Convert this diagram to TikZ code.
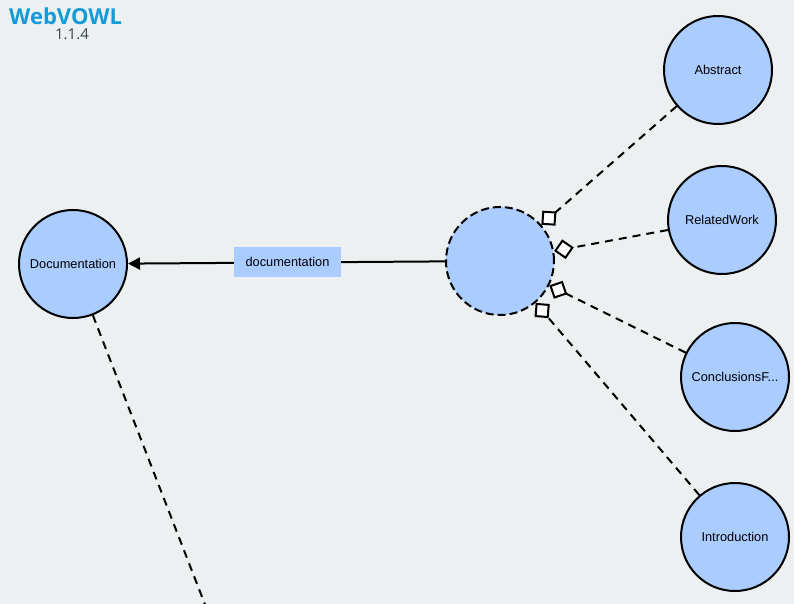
\documentclass[tikz,border=0pt]{standalone}
\usepackage{fontspec}
\setmainfont{Liberation Sans}
\newfontfamily\titlefont{Open Sans}
\usetikzlibrary{arrows.meta}
\definecolor{bg}{HTML}{ECF0F1}
\definecolor{cls}{HTML}{AACCFF}
\definecolor{ttl}{RGB}{20,155,215}
\definecolor{ver}{HTML}{3A424B}
\tikzset{
  cls/.style={circle, draw=black, line width=2pt, fill=cls, minimum size=108pt, inner sep=0pt, font=\fontsize{12.8}{14}\selectfont},
  anon/.style={circle, draw=black, line width=2pt, dash pattern=on 8pt off 4pt, fill=cls, minimum size=108pt, inner sep=0pt},
  prop/.style={fill=cls, minimum width=107pt, minimum height=30pt, inner sep=0pt, font=\fontsize{12.8}{14}\selectfont},
  dline/.style={line width=2pt, dash pattern=on 8pt off 6pt},
  partof/.style={dline, -{Diamond[open, fill=white, length=20pt, width=20pt, line width=2pt]}},
  solidline/.style={line width=2pt, -{Triangle[length=12pt, width=12pt]}},
}
\begin{document}
\begin{tikzpicture}[x=1pt, y=-1pt]
\fill[bg] (0,0) rectangle (794,604);
\useasboundingbox (0,0) rectangle (794,604);
\node[anchor=base west, text=ttl, inner sep=0pt, font=\titlefont\bfseries\fontsize{22}{23}\selectfont] (title) at (9,25) {WebVOWL};
\node[anchor=base, text=ver, inner sep=0pt, font=\titlefont\fontsize{15}{16}\selectfont] (version) at (72,40) {1.1.4};

\node[cls] (doc) at (73,264) {Documentation};
\node[anon] (c) at (500,261) {};
\node[cls] (abs) at (718,70) {Abstract};
\node[cls] (rel) at (722,220) {RelatedWork};
\node[cls] (con) at (735,377) {ConclusionsF...};
\node[cls] (intro) at (735,537) {Introduction};
\coordinate (off) at (211,620);

\draw[dline] (doc) -- (off);
\draw[solidline] (c) -- (doc);
\node[prop] (lbl) at (287.5,262) {documentation};

\draw[partof] (abs) -- (c);
\draw[partof] (rel) -- (c);
\draw[partof] (con) -- (c);
\draw[partof] (intro) -- (c);
\end{tikzpicture}
\end{document}
